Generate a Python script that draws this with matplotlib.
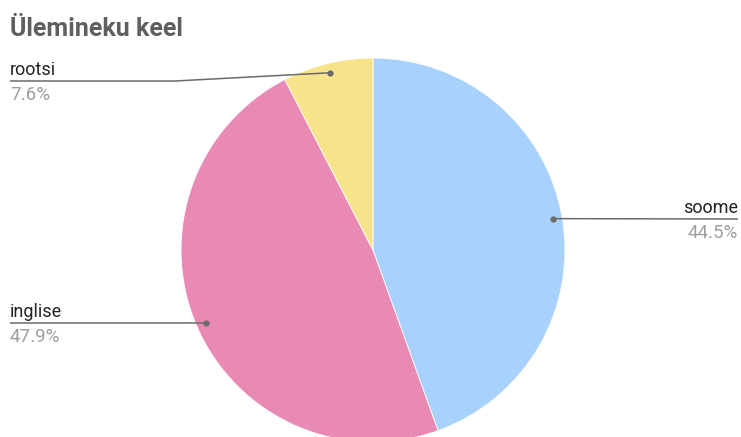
import matplotlib.pyplot as plt
import numpy as np

title = "Ülemineku keel"
labels = ["soome", "inglise", "rootsi"]
shares = [44.5, 47.9, 7.6]
colors = ["#a8d1fb", "#e98ab5", "#f7e389"]

W, H = 741, 437
plt.rcParams['font.family'] = ['Roboto', 'DejaVu Sans']

fig = plt.figure(figsize=(W / 100, H / 100), dpi=100)
ax = fig.add_axes([0, 0, 1, 1])

cx, cy, r = 373, 250, 192
wedges, _ = ax.pie(shares, colors=colors, startangle=90, counterclock=False,
                   center=(cx, H - cy), radius=r,
                   wedgeprops=dict(edgecolor="white", linewidth=0.6))
ax.set_xlim(0, W)
ax.set_ylim(0, H)
ax.set_aspect("equal")
ax.axis("off")

def py(y):
    return H - y

# label layout: (text x, align, line y, line path x-points)
layout = {
    "soome":   dict(tx=738, ha="right", ly=219, path=[738]),
    "inglise": dict(tx=10, ha="left", ly=323, path=[10]),
    "rootsi":  dict(tx=10, ha="left", ly=81, path=[10, 175]),
}

line_col = "#6b6b6b"
for w, lab, val in zip(wedges, labels, shares):
    mid = np.deg2rad((w.theta1 + w.theta2) / 2)
    dx = cx + 0.95 * r * np.cos(mid)
    dy = (H - cy) + 0.95 * r * np.sin(mid)
    lo = layout[lab]
    xs = lo["path"] + [dx]
    ys = [py(lo["ly"])] * len(lo["path"]) + [dy]
    ax.plot(xs, ys, color=line_col, lw=1.1, solid_capstyle="butt")
    ax.plot([dx], [dy], "o", color=line_col, ms=3.5)
    ax.text(lo["tx"], py(lo["ly"] - 6), lab, ha=lo["ha"], va="baseline",
            fontsize=13, color="#222222")
    ax.text(lo["tx"], py(lo["ly"] + 19), f"{val}%", ha=lo["ha"], va="baseline",
            fontsize=13.5, color="#9e9e9e")

fig.text(10 / W, 1 - 36 / H, title, fontsize=18, fontweight="bold",
         color="#5f5f5f", ha="left", va="baseline")

fig.savefig("out.png", dpi=100, facecolor="white")
